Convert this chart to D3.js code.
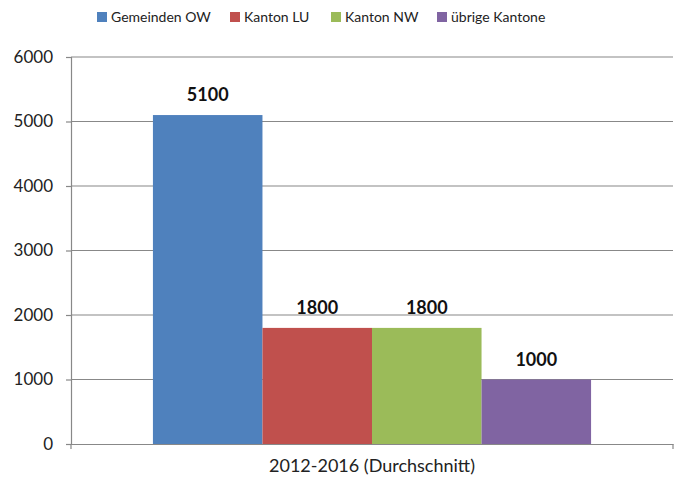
<!DOCTYPE html>
<html>
<head>
<meta charset="utf-8">
<script src="https://cdn.jsdelivr.net/npm/d3@7"></script>
<style>
  body { margin: 0; background: #fff; }
  text { font-family: Lato, "Open Sans", sans-serif; }
</style>
</head>
<body>
<svg width="674" height="483"></svg>
<script>
// data
var category = "2012-2016 (Durchschnitt)";
var series = ["Gemeinden OW", "Kanton LU", "Kanton NW", "übrige Kantone"];
var values = [5100, 1800, 1800, 1000];
var colors = ["#4F81BD", "#C0504D", "#9BBB59", "#8064A2"];
var yTicks = [0, 1000, 2000, 3000, 4000, 5000, 6000];

var svg = d3.select("svg");

var margin = { top: 57, right: 1, bottom: 39, left: 71 },
  width = 674 - margin.left - margin.right,
  height = 483 - margin.top - margin.bottom;

var g = svg.append("g")
  .attr("transform", "translate(" + margin.left + "," + margin.top + ")");

var y = d3.scaleLinear().domain([0, 6000]).range([height, 0]);

var x0 = d3.scaleBand().domain([category]).range([0, width]).paddingInner(0).paddingOuter(0.187);
var x1 = d3.scaleBand().domain(series).range([0, x0.bandwidth()]).padding(0);

// gridlines
g.append("g")
  .selectAll("line")
  .data(yTicks.slice(1))
  .enter()
  .append("line")
  .attr("x1", 0)
  .attr("x2", width)
  .attr("y1", function (d) { return y(d); })
  .attr("y2", function (d) { return y(d); })
  .attr("stroke", "#888")
  .attr("stroke-width", 1.2);

// bars
g.append("g")
  .selectAll("rect")
  .data(series)
  .enter()
  .append("rect")
  .attr("x", function (d) { return x0(category) + x1(d); })
  .attr("y", function (d, i) { return y(values[i]); })
  .attr("width", x1.bandwidth())
  .attr("height", function (d, i) { return height - y(values[i]); })
  .attr("fill", function (d, i) { return colors[i]; });

// value labels
g.append("g")
  .selectAll("text")
  .data(series)
  .enter()
  .append("text")
  .attr("x", function (d) { return x0(category) + x1(d) + x1.bandwidth() / 2; })
  .attr("y", function (d, i) { return y(values[i]) - 14; })
  .attr("text-anchor", "middle")
  .attr("font-size", "18px")
  .attr("font-weight", "bold")
  .attr("fill", "#111")
  .text(function (d, i) { return values[i]; });

// y axis
var yAxis = g.append("g")
  .call(d3.axisLeft(y).tickValues(yTicks).tickSize(5).tickPadding(13).tickFormat(d3.format("d")));
yAxis.select(".domain").attr("stroke", "#888").attr("stroke-width", 1.2);
yAxis.selectAll(".tick line").attr("stroke", "#888").attr("stroke-width", 1.2);
yAxis.selectAll(".tick text").attr("font-size", "17px").attr("fill", "#222")
  .style("font-family", "Lato, 'Open Sans', sans-serif");

// x axis
var xAxis = g.append("g")
  .attr("transform", "translate(0," + height + ")")
  .call(d3.axisBottom(x0).tickSize(0).tickPadding(15));
xAxis.select(".domain").attr("stroke", "#888").attr("stroke-width", 1.2);
xAxis.selectAll(".tick text").attr("font-size", "18px").attr("fill", "#222")
  .style("font-family", "Lato, 'Open Sans', sans-serif");
// small ticks at both ends of x axis
g.append("g")
  .selectAll("line")
  .data([0, width])
  .enter()
  .append("line")
  .attr("x1", function (d) { return d; })
  .attr("x2", function (d) { return d; })
  .attr("y1", height)
  .attr("y2", height + 5)
  .attr("stroke", "#888")
  .attr("stroke-width", 1.2);

// legend
var legendX = [97, 230, 331, 437];
var legend = svg.append("g")
  .selectAll("g")
  .data(series)
  .enter()
  .append("g")
  .attr("transform", function (d, i) { return "translate(" + legendX[i] + ",12)"; });
legend.append("rect")
  .attr("width", 10)
  .attr("height", 10)
  .attr("fill", function (d, i) { return colors[i]; });
legend.append("text")
  .attr("x", 14)
  .attr("y", 10)
  .attr("font-size", "14px")
  .attr("fill", "#222")
  .text(function (d) { return d; });
</script>
</body>
</html>
